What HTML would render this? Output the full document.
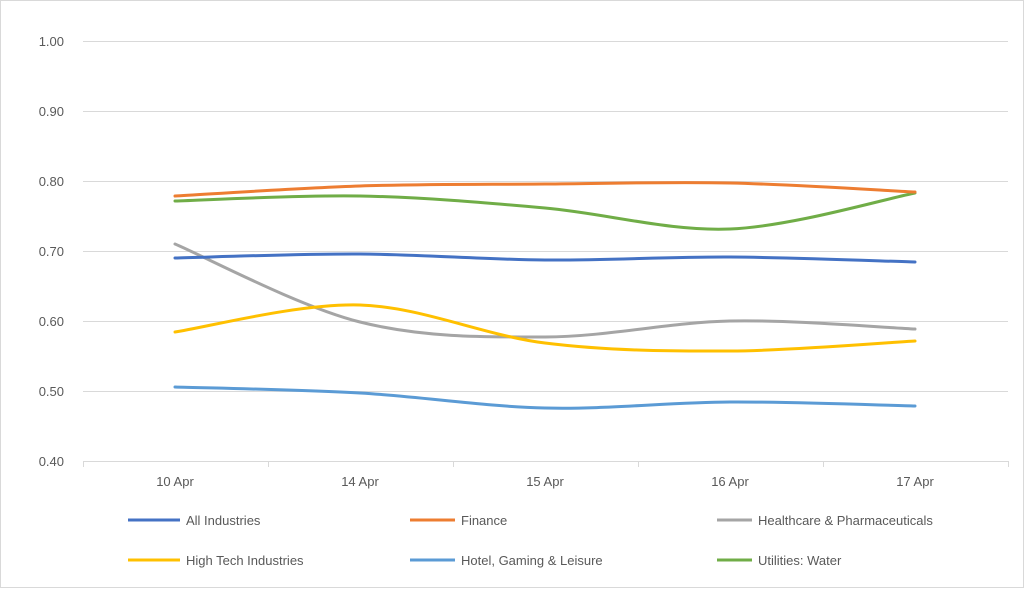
<!DOCTYPE html>
<html><head><meta charset="utf-8"><style>
body{margin:0;background:#fff}
svg text{font-family:"Liberation Sans",sans-serif;font-size:13px;fill:#595959}
</style></head><body>
<svg id="s" width="1024" height="588" xmlns="http://www.w3.org/2000/svg">
<rect x="0.5" y="0.5" width="1023" height="587" fill="#fff" stroke="#d9d9d9"/>
<g stroke="#d9d9d9" stroke-width="1">
<line x1="83" x2="1008" y1="41.5" y2="41.5"/><line x1="83" x2="1008" y1="111.5" y2="111.5"/>
<line x1="83" x2="1008" y1="181.5" y2="181.5"/><line x1="83" x2="1008" y1="251.5" y2="251.5"/>
<line x1="83" x2="1008" y1="321.5" y2="321.5"/><line x1="83" x2="1008" y1="391.5" y2="391.5"/>
<line x1="83" x2="1008" y1="461.5" y2="461.5"/>
<line x1="83.5" x2="83.5" y1="461" y2="467"/><line x1="268.5" x2="268.5" y1="461" y2="467"/>
<line x1="453.5" x2="453.5" y1="461" y2="467"/><line x1="638.5" x2="638.5" y1="461" y2="467"/>
<line x1="823.5" x2="823.5" y1="461" y2="467"/><line x1="1008.5" x2="1008.5" y1="461" y2="467"/>
</g>
<g text-anchor="end">
<text x="64" y="46">1.00</text><text x="64" y="116">0.90</text><text x="64" y="186">0.80</text>
<text x="64" y="256">0.70</text><text x="64" y="326">0.60</text><text x="64" y="396">0.50</text>
<text x="64" y="466">0.40</text>
</g>
<g text-anchor="middle">
<text x="175" y="486">10 Apr</text><text x="360" y="486">14 Apr</text><text x="545" y="486">15 Apr</text>
<text x="730" y="486">16 Apr</text><text x="915" y="486">17 Apr</text>
</g>
<g id="series" fill="none" stroke-width="3" stroke-linecap="round"></g>
<g stroke-width="3">
<line x1="128" x2="180" y1="520" y2="520" stroke="#4472c4"/>
<line x1="410" x2="455" y1="520" y2="520" stroke="#ed7d31"/>
<line x1="717" x2="752" y1="520" y2="520" stroke="#a5a5a5"/>
<line x1="128" x2="180" y1="560" y2="560" stroke="#ffc000"/>
<line x1="410" x2="455" y1="560" y2="560" stroke="#5b9bd5"/>
<line x1="717" x2="752" y1="560" y2="560" stroke="#70ad47"/>
</g>
<text x="186" y="525">All Industries</text><text x="461" y="525">Finance</text><text x="758" y="525">Healthcare &amp; Pharmaceuticals</text>
<text x="186" y="565">High Tech Industries</text><text x="461" y="565">Hotel, Gaming &amp; Leisure</text><text x="758" y="565">Utilities: Water</text>
</svg>
<script>
var xs=[175,360,545,730,915];
var S=[["#a5a5a5",[244,322,337,321,329]],["#ffc000",[332,305,343,351,341]],["#5b9bd5",[387,393,408,402,406]],
["#4472c4",[258,254,260,257,262]],["#70ad47",[201,196,208,229,193]],["#ed7d31",[196,186,184,183,192]]];
var g=document.getElementById("series"),h="";
S.forEach(function(s){var y=s[1],d="M"+xs[0]+" "+y[0];
for(var i=0;i<4;i++){var p0=i?i-1:0,p3=i<3?i+2:4,t=1/6;
var c1x=xs[i]+(xs[i+1]-xs[p0])*t,c1y=y[i]+(y[i+1]-y[p0])*t,c2x=xs[i+1]-(xs[p3]-xs[i])*t,c2y=y[i+1]-(y[p3]-y[i])*t;
d+=" C"+c1x+" "+c1y+" "+c2x+" "+c2y+" "+xs[i+1]+" "+y[i+1];}
h+='<path d="'+d+'" stroke="'+s[0]+'"/>';});
g.innerHTML=h;
</script>
</body></html>
